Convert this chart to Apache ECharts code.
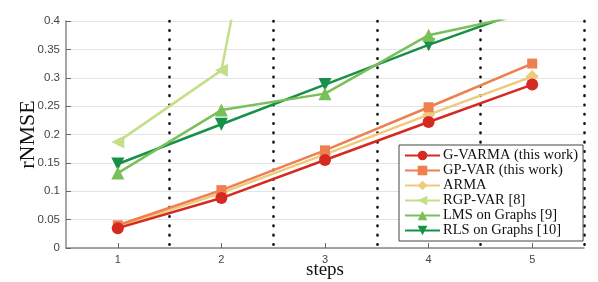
<!DOCTYPE html>
<html><head><meta charset="utf-8">
<script src="https://cdn.jsdelivr.net/npm/echarts@6/dist/echarts.min.js"></script>
<style>html,body{margin:0;padding:0;background:#fff}#c{width:598px;height:282px}</style>
</head><body><div id="c"></div>
<script>
const steps = ['1','2','3','4','5'];
const yTicks = [0,0.05,0.1,0.15,0.2,0.25,0.3,0.35,0.4];
const gvarma = [0.035,0.088,0.155,0.222,0.288];
const gpvar  = [0.040,0.102,0.172,0.248,0.325];
const arma   = [0.037,0.097,0.165,0.235,0.302];
const rgpvar = [0.187,0.313,1.25,2.0,2.8];
const lms    = [0.132,0.243,0.272,0.375,0.414];
const rls    = [0.148,0.218,0.288,0.358,0.423];

const names = ['G-VARMA (this work)','GP-VAR (this work)','ARMA','RGP-VAR [8]','LMS on Graphs [9]','RLS on Graphs [10]'];
const colors = ['#d42a22','#ee7f50','#efc97c','#c3df88','#79c05a','#17904a'];
const symbols = ['circle','rect','diamond','triangle','triangle','triangle'];
const rotates = [0,0,0,90,0,180];
const sizes = [12,10,13,13,13,13];
const datas = [gvarma,gpvar,arma,rgpvar,lms,rls];

const series = names.map((n,i)=>({
  name:n, type:'line', data:datas[i], symbol:symbols[i], symbolSize:sizes[i], symbolRotate:rotates[i],
  clip:true, z: 10-i,
  lineStyle:{color:colors[i], width:2.5}, itemStyle:{color:colors[i]}
}));

const chart = echarts.init(document.getElementById('c'));
chart.setOption({
  animation:false,
  color:colors,
  grid:{left:66, right:14, top:21, bottom:34, containLabel:false, outerBoundsMode:'none'},
  xAxis:{type:'category', data:steps, boundaryGap:true,
    name:'steps', nameLocation:'middle', nameGap:13, nameMoveOverlap:false,
    nameTextStyle:{fontFamily:'Liberation Serif', fontSize:19, color:'#111', verticalAlign:'top'},
    axisLine:{lineStyle:{color:'#888', width:1.5}},
    axisTick:{show:true, alignWithLabel:true, inside:true, length:5, lineStyle:{color:'#666'}},
    axisLabel:{color:'#444', fontFamily:'Liberation Sans', fontSize:11, margin:6},
    splitLine:{show:true, interval:(i)=>i>0, lineStyle:{color:'#111', width:2.6, type:[0.5,8.8], cap:'round'}}
  },
  yAxis:{type:'value', min:0, max:0.4, interval:0.05,
    name:'rNMSE', nameLocation:'middle', nameGap:27, nameMoveOverlap:false,
    nameTextStyle:{fontFamily:'Liberation Serif', fontSize:22, color:'#111'},
    axisLine:{show:true, lineStyle:{color:'#888', width:1.5}},
    axisTick:{show:true, inside:true, length:5, lineStyle:{color:'#666'}},
    axisLabel:{color:'#444', fontFamily:'Liberation Sans', fontSize:11.5, margin:6,
      formatter:v=>String(+v.toFixed(2))},
    splitLine:{show:true, lineStyle:{color:'#e4e4e4', width:1.2}}
  },
  legend:{orient:'vertical', left:399, top:145, itemGap:0, itemWidth:35, itemHeight:12,
    padding:[3,5,3,5], backgroundColor:'#fff', borderColor:'#444', borderWidth:1,
    textStyle:{fontFamily:'Liberation Serif', fontSize:14.5, lineHeight:15, color:'#111', padding:[0,0,0,-2]}, data:names},
  series
});
</script></body></html>
